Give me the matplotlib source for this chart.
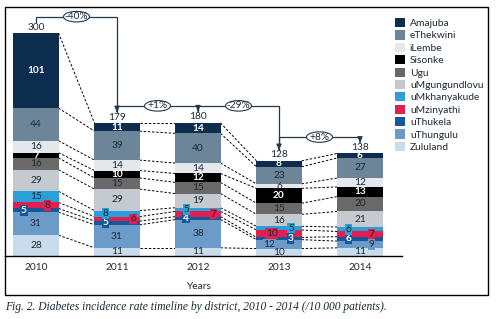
import matplotlib
matplotlib.use("Agg")
import matplotlib.pyplot as plt
import numpy as np
from matplotlib.patches import Rectangle, Ellipse

plt.rcParams['font.family'] = ['Lato', 'DejaVu Sans']

years = ['2010', '2011', '2012', '2013', '2014']
totals = [300, 179, 180, 128, 138]

# bottom to top
districts = ['Zululand', 'uThungulu', 'uThukela', 'uMzinyathi', 'uMkhanyakude',
             'uMgungundlovu', 'Ugu', 'Sisonke', 'iLembe', 'eThekwini', 'Amajuba']
values = {
    'Zululand':      [28, 11, 11, 10, 11],
    'uThungulu':     [31, 31, 38, 12, 9],
    'uThukela':      [5, 5, 4, 3, 6],
    'uMzinyathi':    [8, 6, 7, 10, 7],
    'uMkhanyakude':  [15, 8, 5, 5, 6],
    'uMgungundlovu': [29, 29, 19, 16, 21],
    'Ugu':           [16, 15, 15, 15, 20],
    'Sisonke':       [7, 10, 12, 20, 13],
    'iLembe':        [16, 14, 14, 6, 12],
    'eThekwini':     [44, 39, 40, 23, 27],
    'Amajuba':       [101, 11, 14, 8, 6],
}

colors = {
    'Amajuba': '#0c2d4e', 'eThekwini': '#6c8599', 'iLembe': '#e4e7ec',
    'Sisonke': '#000000', 'Ugu': '#696969', 'uMgungundlovu': '#c4cacf',
    'uMkhanyakude': '#2a9fd8', 'uMzinyathi': '#e2204f', 'uThukela': '#16569a',
    'uThungulu': '#6b9bc9', 'Zululand': '#cadcec',
}
light_text = {'Amajuba', 'Sisonke', 'uThukela'}

# small segments whose labels are pushed sideways (x offset, boxed)
label_dx = {
    (0, 'uMzinyathi'): 0.14, (0, 'uThukela'): -0.15,
    (1, 'uMkhanyakude'): -0.14, (1, 'uMzinyathi'): 0.20, (1, 'uThukela'): -0.14,
    (2, 'uMkhanyakude'): -0.14, (2, 'uMzinyathi'): 0.19, (2, 'uThukela'): -0.15,
    (3, 'uMkhanyakude'): 0.15, (3, 'uMzinyathi'): -0.09, (3, 'uThukela'): 0.14,
    (3, 'uThungulu'): -0.12,
    (4, 'uMkhanyakude'): -0.14, (4, 'uMzinyathi'): 0.14, (4, 'uThukela'): -0.14,
    (4, 'uThungulu'): 0.14,
}

W, H = 496, 319
fig = plt.figure(figsize=(W / 100, H / 100), dpi=100)
ax = fig.add_axes([5 / W, 63 / H, 397 / W, 249 / H])

x = np.arange(len(years))
bw = 0.556
bottom = np.zeros(len(years))
handles = {}
bounds = []
for d in districts:
    v = np.array(values[d], dtype=float)
    bars = ax.bar(x, v, bw, bottom=bottom, color=colors[d], label=d, zorder=2)
    handles[d] = bars
    for i in range(len(years)):
        dx = label_dx.get((i, d), 0.0)
        tc = 'white' if d in light_text else '#1c2833'
        fw = 'bold' if d in light_text else 'normal'
        kw = {}
        if dx != 0.0:
            kw['bbox'] = dict(boxstyle='square,pad=0.08', fc=colors[d], ec='none')
        ax.text(x[i] + dx, bottom[i] + v[i] / 2, str(values[d][i]), ha='center',
                va='center', fontsize=7.3, color=tc, fontweight=fw, zorder=4, **kw)
    bottom = bottom + v
    bounds.append(bottom.copy())

# dashed connectors between segment boundaries
for b in bounds:
    for i in range(len(years) - 1):
        ax.plot([x[i] + bw / 2, x[i + 1] - bw / 2], [b[i], b[i + 1]], ls=(0, (2.5, 1.8)),
                color='black', lw=0.7, zorder=1)

# totals and change arrows
lc = '#1f3a4d'
for i, t in enumerate(totals):
    ax.text(x[i], t + 8, str(t), ha='center', va='center', fontsize=7.3, color='#1c2833')
for i in range(len(years) - 1):
    lvl = max(totals[i], totals[i + 1]) + 22
    y0 = totals[i] + 15
    y1 = totals[i + 1] + 15
    ax.plot([x[i], x[i], x[i + 1], x[i + 1]], [y0, lvl, lvl, y1 + 3], color=lc, lw=0.9,
            zorder=3, solid_joinstyle='miter')
    ax.annotate('', xy=(x[i + 1], y1), xytext=(x[i + 1], y1 + 4),
                arrowprops=dict(arrowstyle='-|>,head_width=0.15,head_length=0.3', color=lc, lw=0.9))
    pct = round((totals[i + 1] - totals[i]) / totals[i] * 100)
    xm = (x[i] + x[i + 1]) / 2
    ax.add_patch(Ellipse((xm, lvl), 26 / 81, 10.5 / 0.743, fc='white', ec=lc, lw=0.8, zorder=5))
    ax.text(xm, lvl, f'{pct:+d}%', ha='center', va='center', fontsize=7.3,
            color='#1c2833', zorder=6)

ax.set_xlim((5 - 36) / 81, (402 - 36) / 81)
ax.set_ylim(0, 335)
ax.set_xticks(x)
ax.set_xticklabels(years, fontsize=7.3, color='#1c2833')
ax.tick_params(axis='x', length=0, pad=5)
ax.set_yticks([])
for s in ['left', 'right', 'top']:
    ax.spines[s].set_visible(False)
ax.spines['bottom'].set_linewidth(1.0)
ax.spines['bottom'].set_color('black')
ax.patch.set_alpha(0)
ax.set_xlabel('Years', fontsize=7.3, color='#1c2833')
ax.xaxis.set_label_coords((198 - 5) / 397, -26 / 249)

leg = ax.legend([handles[d] for d in reversed(districts)], list(reversed(districts)),
                loc='upper left', bbox_to_anchor=(395 / W, 1 - 18 / H),
                bbox_transform=fig.transFigure, frameon=False, fontsize=7.4,
                handlelength=1.0, handleheight=1.0, handletextpad=0.45,
                labelspacing=0.22, borderaxespad=0, borderpad=0)
for t in leg.get_texts():
    t.set_color('#1c2833')

# outer frame
fig.patches.append(Rectangle((5 / W, 1 - 295 / H), 483 / W, 288 / H, transform=fig.transFigure,
                             fill=False, ec='black', lw=1.0))

fig.text(5 / W, 1 - 307 / H,
         'Fig. 2. Diabetes incidence rate timeline by district, 2010 - 2014 (/10 000 patients).',
         fontsize=8.3, style='italic', family='Liberation Serif', color='#1c2833',
         ha='left', va='center')

fig.savefig('out.png', dpi=100)
